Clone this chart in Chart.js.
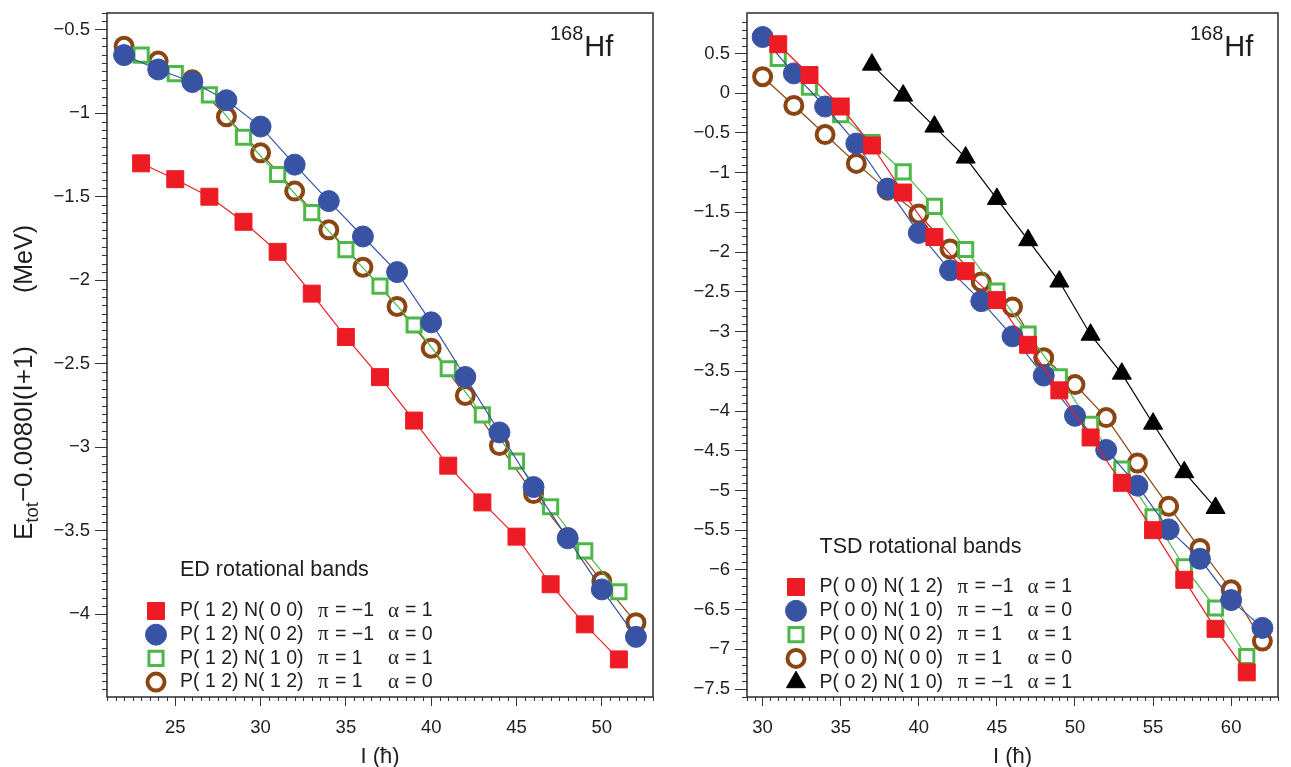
<!DOCTYPE html>
<html><head><meta charset="utf-8">
<script src="https://cdn.jsdelivr.net/npm/chart.js@4.4.1/dist/chart.umd.min.js"></script>
<style>
html,body{margin:0;padding:0;background:#fff;}
#wrap{position:relative;width:1291px;height:767px;overflow:hidden;background:#fff;}
.panel{position:absolute;top:0;height:767px;}
#pl{left:0;width:680px;} #pr{left:680px;width:611px;}
</style></head><body>
<div id="wrap"><div class="panel" id="pl"><canvas id="cl"></canvas></div><div class="panel" id="pr"><canvas id="cr"></canvas></div></div>
<script>
// ---------- DATA ----------
const edOddSpins  = [23,25,27,29,31,33,35,37,39,41,43,45,47,49,51];
const edEvenSpins = [22,24,26,28,30,32,34,36,38,40,42,44,46,48,50,52];
const edRed   = [-1.30,-1.395,-1.50,-1.65,-1.83,-2.08,-2.34,-2.58,-2.84,-3.11,-3.33,-3.535,-3.82,-4.06,-4.27];
const edBlue  = [-0.652,-0.738,-0.813,-0.922,-1.080,-1.308,-1.526,-1.738,-1.951,-2.252,-2.579,-2.911,-3.238,-3.545,-3.851,-4.135];
const edGreen = [-0.652,-0.763,-0.890,-1.144,-1.367,-1.595,-1.817,-2.035,-2.268,-2.530,-2.806,-3.083,-3.356,-3.620,-3.865];
const edBrown = [-0.599,-0.688,-0.800,-1.021,-1.237,-1.466,-1.698,-1.922,-2.157,-2.407,-2.690,-2.990,-3.277,-3.540,-3.802,-4.050];

const tsdOddSpins   = [31,33,35,37,39,41,43,45,47,49,51,53,55,57,59,61];
const tsdEvenSpins  = [30,32,34,36,38,40,42,44,46,48,50,52,54,56,58,60,62];
const tsdBlackSpins = [37,39,41,43,45,47,49,51,53,55,57,59];
const tsdRed   = [0.617,0.229,-0.167,-0.658,-1.25,-1.81,-2.24,-2.604,-3.167,-3.74,-4.333,-4.904,-5.50,-6.125,-6.742,-7.29];
const tsdBlue  = [0.708,0.25,-0.167,-0.633,-1.20,-1.758,-2.229,-2.617,-3.06,-3.554,-4.06,-4.49,-4.94,-5.49,-5.86,-6.38,-6.73];
const tsdGreen = [0.4375,0.075,-0.27,-0.62,-0.99,-1.425,-1.967,-2.49,-3.03,-3.57,-4.167,-4.73,-5.333,-5.96,-6.48,-7.09];
const tsdBrown = [0.208,-0.154,-0.52,-0.883,-1.22,-1.52,-1.96,-2.375,-2.69,-3.33,-3.667,-4.083,-4.654,-5.20,-5.73,-6.25,-6.896];
const tsdBlack = [0.36,-0.03,-0.42,-0.81,-1.33,-1.85,-2.37,-3.04,-3.53,-4.16,-4.77,-5.22];

const edXTicks  = [25,30,35,40,45,50];
const edYTicks  = [-4,-3.5,-3,-2.5,-2,-1.5,-1,-0.5];
const tsdXTicks = [30,35,40,45,50,55,60];
const tsdYTicks = [-7.5,-7,-6.5,-6,-5.5,-5,-4.5,-4,-3.5,-3,-2.5,-2,-1.5,-1,-0.5,0,0.5];

const edLegendTitle = 'ED rotational bands';
const edConfigs   = ['P( 1 2) N( 0 0)','P( 1 2) N( 0 2)','P( 1 2) N( 1 0)','P( 1 2) N( 1 2)'];
const edParity    = [-1,-1,1,1];
const edSignature = [1,0,1,0];
const tsdLegendTitle = 'TSD rotational bands';
const tsdConfigs   = ['P( 0 0) N( 1 2)','P( 0 0) N( 1 0)','P( 0 0) N( 0 2)','P( 0 0) N( 0 0)','P( 0 2) N( 1 0)'];
const tsdParity    = [-1,-1,1,1,-1];
const tsdSignature = [1,0,1,0,1];

const yTitleMain = '\u22120.0080I(I+1)';
const nucleusMass = '168', nucleusSym = 'Hf';
const xTitle = 'I (\u0127)';

// ---------- STYLE ----------
const FONT = '"Liberation Sans", Arial, Helvetica, sans-serif';
const SERIF = '"Liberation Serif", "Times New Roman", serif';
const TXT = '#1e1e1e';
const C = {red:'#ED1C24', blue:'#3953A4', green:'#4DB848', brown:'#8B4513', black:'#000000'};
const M = {
  red:   {pointStyle:'rect',     radius:12,   fill:C.red,   border:C.red,   bw:1},
  blue:  {pointStyle:'circle',   radius:10.5, fill:C.blue,  border:C.blue,  bw:1},
  green: {pointStyle:'rect',     radius:10,   fill:'#ffffff', border:C.green, bw:3},
  brown: {pointStyle:'circle',   radius:8.5,  fill:'#ffffff', border:C.brown, bw:4},
  black: {pointStyle:'triangle', radius:11,   fill:C.black, border:C.black, bw:1}
};
function ds(label, spins, vals, key){
  const m = M[key];
  return {label, data: spins.map((s,i)=>({x:s,y:vals[i]})), showLine:true,
    borderColor:C[key], borderWidth:1.2, backgroundColor:m.fill,
    pointStyle:m.pointStyle, pointRadius:m.radius, pointHoverRadius:m.radius,
    pointBackgroundColor:m.fill, pointBorderColor:m.border, pointBorderWidth:m.bw, tension:0, fill:false};
}
const fmt = v => String(v).replace('-', '\u2212');

const decor = {
  id:'decor',
  afterDraw(chart, args, o){
    const ctx = chart.ctx, a = chart.chartArea, xs = chart.scales.x, ys = chart.scales.y;
    ctx.save();
    // minor ticks
    ctx.strokeStyle = '#333'; ctx.lineWidth = 1; ctx.beginPath();
    const k0 = Math.ceil(xs.min/o.xMinor - 1e-6), k1 = Math.floor(xs.max/o.xMinor + 1e-6);
    for (let k=k0;k<=k1;k++){ const v=k*o.xMinor; const r=v/o.xMajor; if (Math.abs(r-Math.round(r))<1e-6) continue;
      const px = Math.round(xs.getPixelForValue(v))+0.5; ctx.moveTo(px,a.bottom); ctx.lineTo(px,a.bottom+o.xMinorLen); }
    const j0 = Math.ceil(ys.min/o.yMinor - 1e-6), j1 = Math.floor(ys.max/o.yMinor + 1e-6);
    for (let k=j0;k<=j1;k++){ const v=k*o.yMinor; const r=v/o.yMajor; if (Math.abs(r-Math.round(r))<1e-6) continue;
      const py = Math.round(ys.getPixelForValue(v))+0.5; ctx.moveTo(a.left,py); ctx.lineTo(a.left-o.yMinorLen,py); }
    ctx.stroke();
    // frame
    ctx.lineWidth = 1.5; ctx.strokeStyle = '#2a2a2a';
    ctx.strokeRect(a.left, a.top, a.right-a.left, a.bottom-a.top);
    // nucleus label
    ctx.fillStyle = TXT; ctx.textBaseline = 'alphabetic'; ctx.textAlign='left';
    ctx.font = '20px '+FONT; ctx.fillText(nucleusMass, o.hfX, o.hfY-16);
    const w = ctx.measureText(nucleusMass).width;
    ctx.font = '29px '+FONT; ctx.fillText(nucleusSym, o.hfX+w+1, o.hfY);
    // legend
    const L = o.legend;
    ctx.font = '21.5px '+FONT; ctx.textBaseline='middle';
    ctx.fillText(L.title, L.textX, L.titleY);
    const metas = chart.data.datasets;
    for (let i=0;i<L.configs.length;i++){
      const d = metas[i]; const y = L.rowY + i*L.rowDy;
      ctx.save();
      ctx.fillStyle = d.pointBackgroundColor; ctx.strokeStyle = d.pointBorderColor; ctx.lineWidth = d.pointBorderWidth;
      Chart.helpers.drawPoint(ctx, {pointStyle:d.pointStyle, radius:d.pointRadius, rotation:0, borderWidth:d.pointBorderWidth}, L.markX, y);
      ctx.restore();
      ctx.fillStyle = TXT;
      ctx.font = '19.5px '+FONT; ctx.fillText(L.configs[i], L.textX, y);
      ctx.font = '21px '+SERIF; ctx.fillText('\u03c0', L.textX+138, y);
      ctx.font = '19.5px '+FONT; ctx.fillText('= '+fmt(L.parity[i]), L.textX+155, y);
      ctx.font = '21px '+SERIF; ctx.fillText('\u03b1', L.textX+208, y);
      ctx.font = '19.5px '+FONT; ctx.fillText('= '+fmt(L.signature[i]), L.textX+225, y);
    }
    // y title
    if (o.yTitle){
      ctx.save(); ctx.translate(32, 540); ctx.rotate(-Math.PI/2);
      ctx.textBaseline='alphabetic'; ctx.textAlign='left'; ctx.fillStyle = TXT;
      ctx.font = '26px '+FONT; ctx.fillText('E',0,0); let x = ctx.measureText('E').width;
      ctx.font = '18.5px '+FONT; ctx.fillText('tot', x, 6); x += ctx.measureText('tot').width;
      ctx.font = '26px '+FONT; ctx.fillText(yTitleMain, x, 0);
      ctx.font = '25px '+FONT; ctx.textAlign='right'; ctx.fillText('(MeV)', 315, 0);
      ctx.restore();
    }
    ctx.restore();
  }
};

function makeChart(id, datasets, cfg){
  return new Chart(document.getElementById(id), {
    type:'scatter',
    data:{datasets},
    plugins:[decor],
    options:{
      responsive:true, maintainAspectRatio:false, animation:false, devicePixelRatio:1,
      layout:{padding:{left:0, top:cfg.top, right:cfg.right, bottom:0}},
      plugins:{legend:{display:false}, tooltip:{enabled:false}, decor:cfg.decor},
      scales:{
        x:{type:'linear', min:cfg.xmin, max:cfg.xmax,
           afterBuildTicks:s=>{ s.ticks = cfg.xticks.map(v=>({value:v})); },
           afterFit:s=>{ s.height = 70; s.paddingLeft=0; s.paddingRight=0; },
           ticks:{callback:v=>fmt(v), font:{family:FONT,size:18.5}, color:TXT, padding:11, maxRotation:0, autoSkip:false},
           grid:{drawOnChartArea:false, drawTicks:true, tickLength:9, tickColor:'#333', color:'#333', tickWidth:1},
           border:{display:false},
           title:{display:true, text:xTitle, font:{family:FONT,size:22}, color:TXT, padding:{top:0,bottom:-3}}},
        y:{type:'linear', min:cfg.ymin, max:cfg.ymax,
           afterBuildTicks:s=>{ s.ticks = cfg.yticks.map(v=>({value:v})); },
           afterFit:s=>{ s.width = cfg.yw; s.paddingTop=0; s.paddingBottom=0; },
           ticks:{callback:v=>fmt(v), font:{family:FONT,size:18.5}, color:TXT, padding:5, autoSkip:false},
           grid:{drawOnChartArea:false, drawTicks:true, tickLength:12, tickColor:'#333', color:'#333', tickWidth:1},
           border:{display:false}}
      }
    }
  });
}

makeChart('cl', [
  ds(edConfigs[0], edOddSpins, edRed, 'red'),
  ds(edConfigs[1], edEvenSpins, edBlue, 'blue'),
  ds(edConfigs[2], edOddSpins, edGreen, 'green'),
  ds(edConfigs[3], edEvenSpins, edBrown, 'brown')
], {top:8, right:27, yw:107, xmin:21, xmax:53, ymin:-4.495, ymax:-0.4, xticks:edXTicks, yticks:edYTicks,
    decor:{xMinor:0.5, xMajor:5, yMinor:0.05, yMajor:0.5, xMinorLen:4, yMinorLen:5, hfX:550, hfY:56, yTitle:true,
      legend:{title:edLegendTitle, configs:edConfigs, parity:edParity, signature:edSignature, markX:156, textX:180, titleY:570.5, rowY:611, rowDy:23.7}}});

makeChart('cr', [
  ds(tsdConfigs[0], tsdOddSpins, tsdRed, 'red'),
  ds(tsdConfigs[1], tsdEvenSpins, tsdBlue, 'blue'),
  ds(tsdConfigs[2], tsdOddSpins, tsdGreen, 'green'),
  ds(tsdConfigs[3], tsdEvenSpins, tsdBrown, 'brown'),
  ds(tsdConfigs[4], tsdBlackSpins, tsdBlack, 'black')
], {top:9, right:4, yw:67, xmin:29, xmax:63, ymin:-7.6, ymax:1.01, xticks:tsdXTicks, yticks:tsdYTicks,
    decor:{xMinor:0.5, xMajor:5, yMinor:0.1, yMajor:0.5, xMinorLen:4, yMinorLen:5, hfX:510, hfY:56, yTitle:false,
      legend:{title:tsdLegendTitle, configs:tsdConfigs, parity:tsdParity, signature:tsdSignature, markX:116, textX:139.5, titleY:547, rowY:587, rowDy:23.8}}});
</script>
</body></html>
